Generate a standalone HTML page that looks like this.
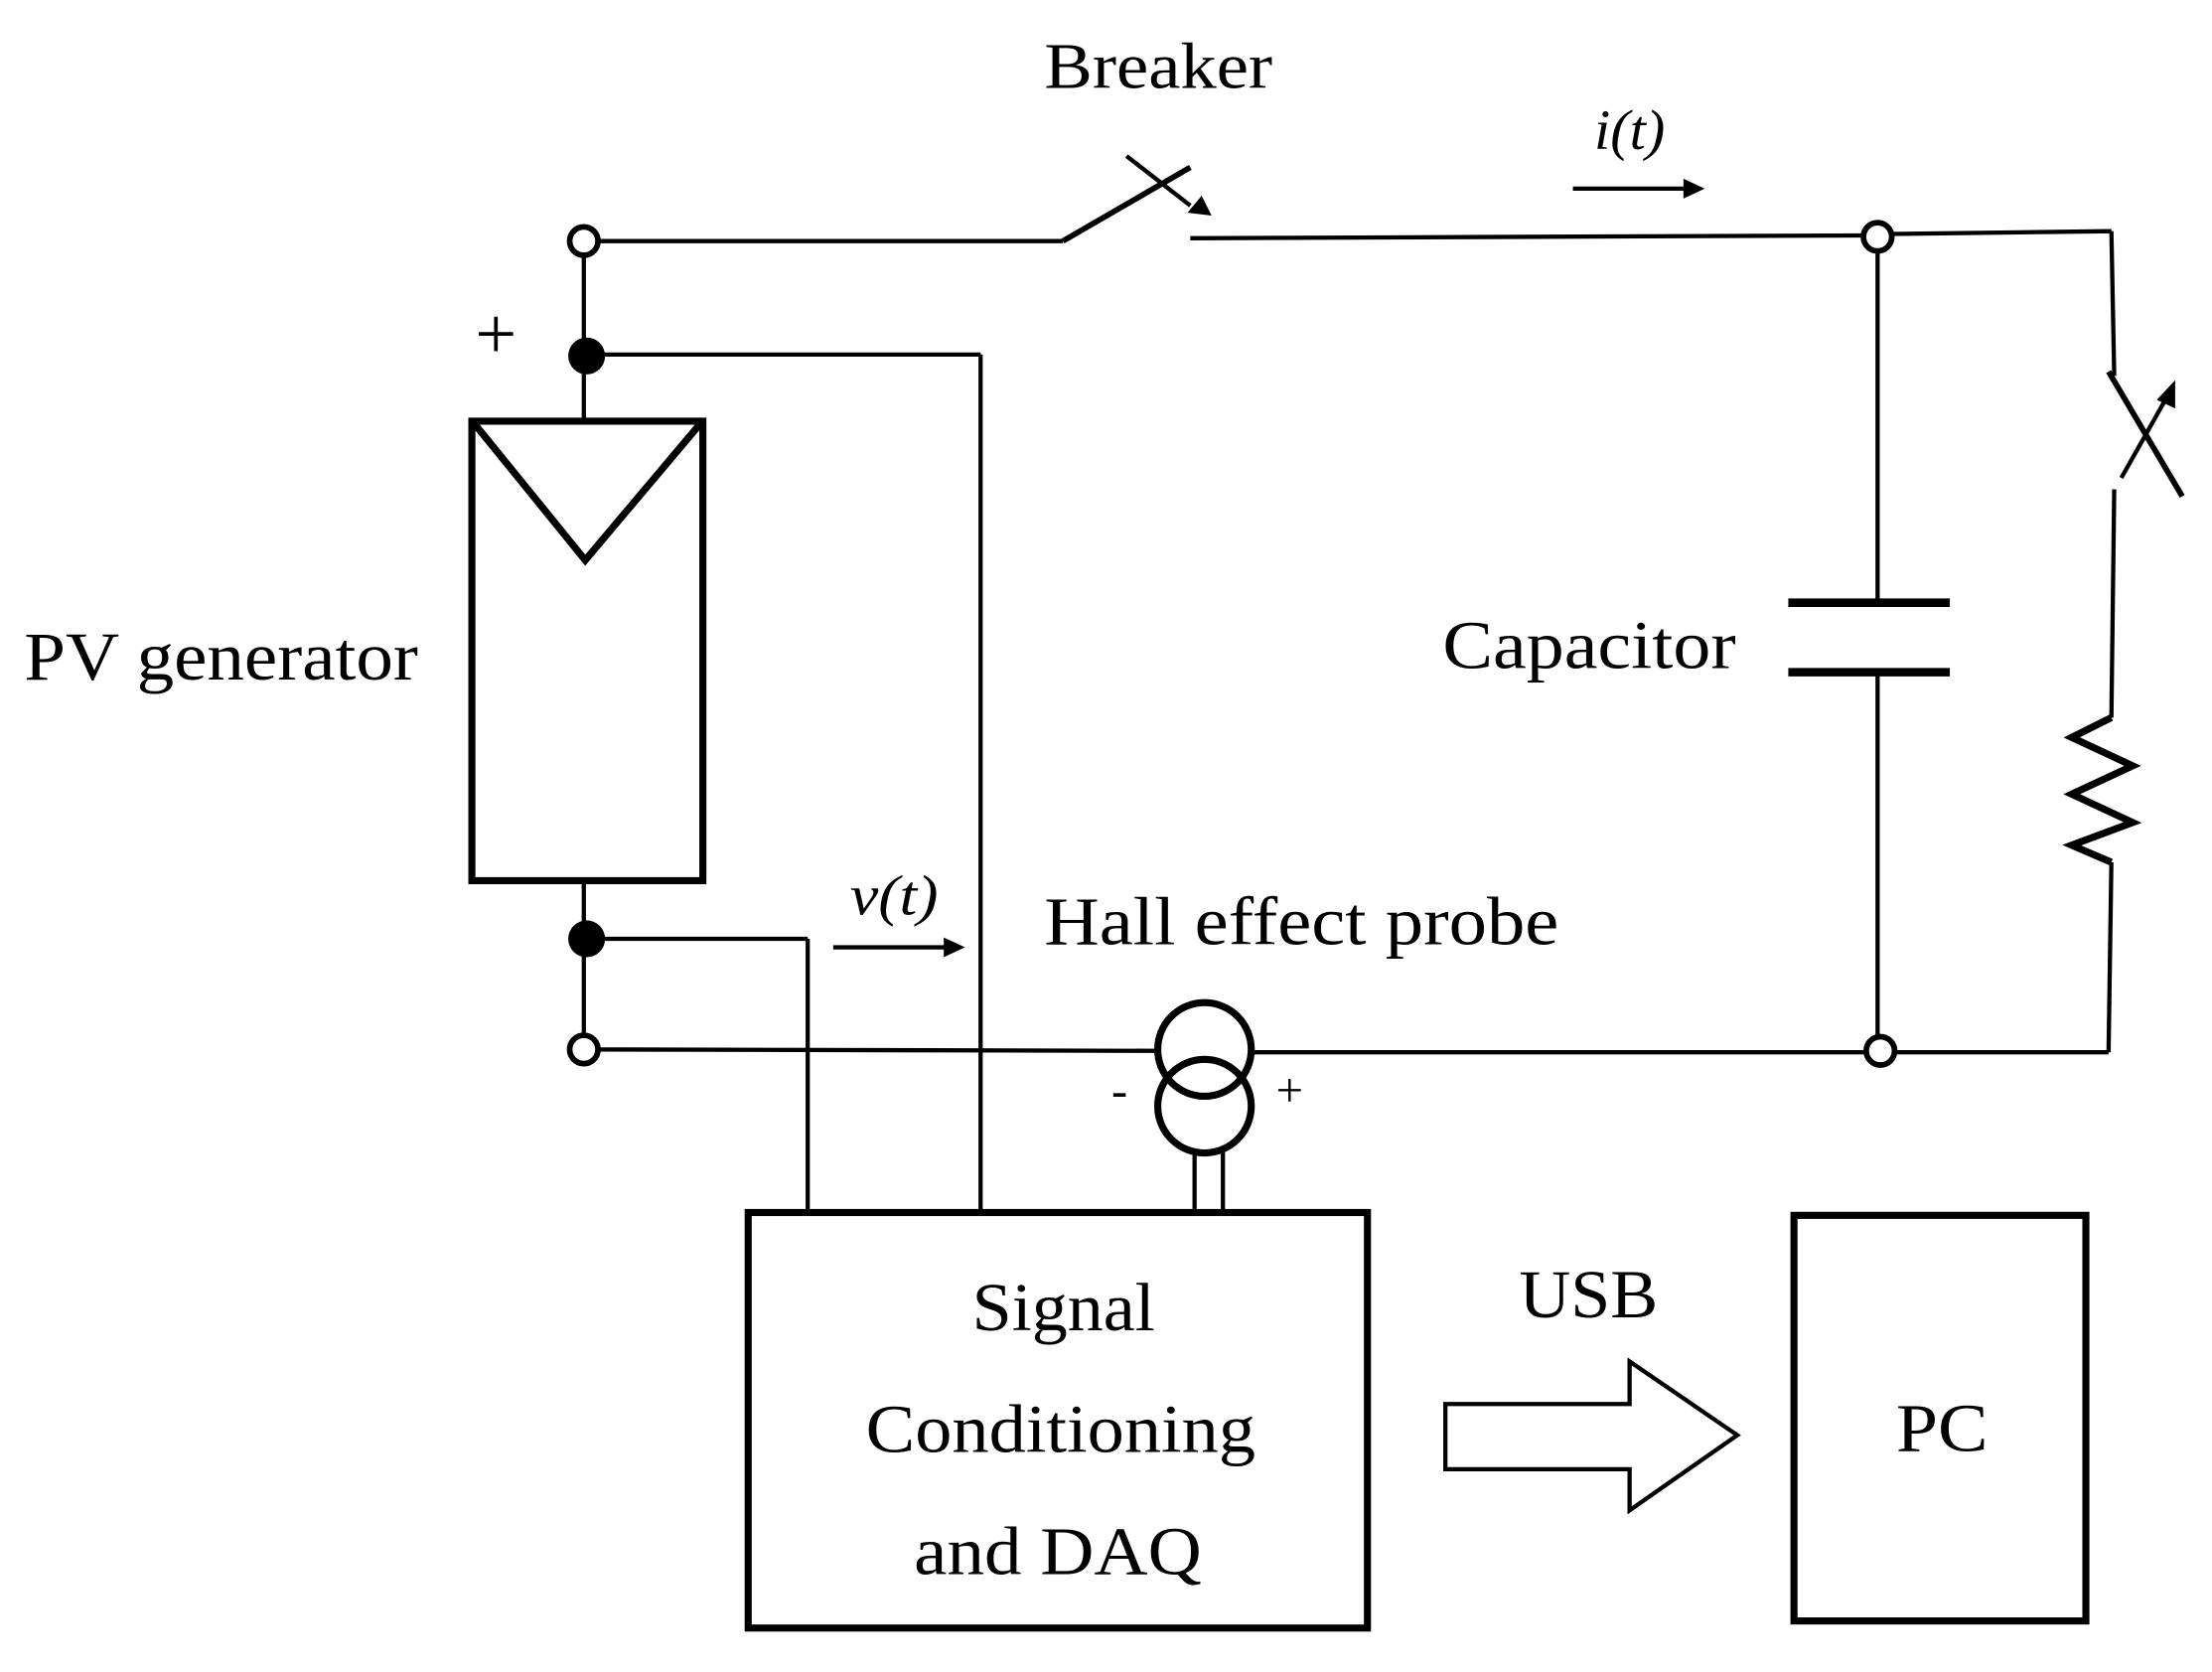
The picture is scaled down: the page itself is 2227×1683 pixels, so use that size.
<!DOCTYPE html>
<html><head><meta charset="utf-8"><style>
html,body{margin:0;padding:0;background:#fff;}
svg{display:block;}
text{font-family:"Liberation Serif",serif;fill:#000;}
</style></head><body>
<svg width="2227" height="1683" viewBox="0 0 1561 1179" preserveAspectRatio="none" xmlns="http://www.w3.org/2000/svg">
<g stroke="#000" stroke-width="3" fill="none">
<line x1="412" y1="178" x2="412" y2="297"/>
<line x1="412" y1="621" x2="412" y2="732"/>
<rect x="333" y="297" width="163" height="324" stroke-width="5"/>
<polyline points="335,299 413,395 494,299" stroke-width="5"/>
<line x1="420" y1="170" x2="750" y2="170"/>
<line x1="750" y1="170" x2="840" y2="118" stroke-width="4"/>
<line x1="795" y1="110" x2="840" y2="145"/>
<polygon points="855,152 838,150 848,138" fill="#000" stroke="none"/>
<line x1="840" y1="168" x2="1317" y2="166"/>
<circle cx="412" cy="170" r="10" fill="#fff" stroke-width="4"/>
<circle cx="1325" cy="167" r="10" fill="#fff" stroke-width="4"/>
<line x1="1335" y1="165" x2="1490" y2="163"/>
<line x1="1490" y1="163" x2="1492" y2="265"/>
<line x1="1488" y1="262" x2="1540" y2="350" stroke-width="4"/>
<line x1="1497" y1="337" x2="1532" y2="275"/>
<polygon points="1535,268 1535,288 1522,282" fill="#000" stroke="none"/>
<line x1="1492" y1="345" x2="1490" y2="506"/>
<polyline points="1490,506 1462,520 1505,540 1462,560 1505,580 1462,596 1490,608" stroke-width="5"/>
<line x1="1490" y1="608" x2="1488" y2="742"/>
<line x1="1488" y1="742" x2="1335" y2="742"/>
<line x1="1325" y1="177" x2="1325" y2="425"/>
<line x1="1262" y1="425" x2="1376" y2="425" stroke-width="6"/>
<line x1="1262" y1="474" x2="1376" y2="474" stroke-width="6"/>
<line x1="1325" y1="474" x2="1325" y2="732"/>
<circle cx="1327" cy="741" r="10" fill="#fff" stroke-width="4"/>
<line x1="420" y1="740" x2="818" y2="741"/>
<line x1="884" y1="742" x2="1317" y2="742"/>
<circle cx="412" cy="740" r="10" fill="#fff" stroke-width="4"/>
<circle cx="850" cy="740" r="33" stroke-width="5"/>
<circle cx="850" cy="780" r="33" stroke-width="5"/>
<line x1="843" y1="812" x2="843" y2="853"/>
<line x1="863" y1="812" x2="863" y2="853"/>
<line x1="412" y1="250" x2="692" y2="250"/>
<line x1="692" y1="250" x2="692" y2="853"/>
<line x1="412" y1="662" x2="570" y2="662"/>
<line x1="570" y1="662" x2="570" y2="853"/>
<rect x="528" y="855" width="437" height="293" stroke-width="5"/>
<rect x="1266" y="857" width="206" height="286" stroke-width="5"/>
<polygon points="1020,990 1150,990 1150,960 1226,1012 1150,1065 1150,1036 1020,1036" stroke-width="3"/>
<line x1="1110" y1="133" x2="1190" y2="133"/>
<line x1="588" y1="668" x2="668" y2="668"/>
</g>
<circle cx="414" cy="251" r="13" fill="#000"/>
<circle cx="414" cy="662" r="13" fill="#000"/>
<polygon points="1203,133 1188,126 1188,140" fill="#000"/>
<polygon points="681,668 666,661 666,675" fill="#000"/>
<text x="737" y="62" font-size="46" textLength="161" lengthAdjust="spacingAndGlyphs">Breaker</text>
<text x="1125" y="105" font-size="40" font-style="italic" textLength="50" lengthAdjust="spacingAndGlyphs">i(t)</text>
<text x="350" y="253" font-size="52" text-anchor="middle">+</text>
<text x="17" y="479" font-size="48" textLength="278" lengthAdjust="spacingAndGlyphs">PV generator</text>
<text x="1018" y="471" font-size="48" textLength="207" lengthAdjust="spacingAndGlyphs">Capacitor</text>
<text x="600" y="645" font-size="40" font-style="italic" textLength="62" lengthAdjust="spacingAndGlyphs">v(t)</text>
<text x="737" y="666" font-size="48" textLength="363" lengthAdjust="spacingAndGlyphs">Hall  effect probe</text>
<text x="790" y="780" font-size="34" text-anchor="middle">-</text>
<text x="910" y="780" font-size="34" text-anchor="middle">+</text>
<text x="686" y="938" font-size="48" textLength="129" lengthAdjust="spacingAndGlyphs">Signal</text>
<text x="611" y="1024" font-size="48" textLength="275" lengthAdjust="spacingAndGlyphs">Conditioning</text>
<text x="645" y="1110" font-size="48" textLength="203" lengthAdjust="spacingAndGlyphs">and DAQ</text>
<text x="1072" y="929" font-size="48" textLength="98" lengthAdjust="spacingAndGlyphs">USB</text>
<text x="1338" y="1023" font-size="48" textLength="65" lengthAdjust="spacingAndGlyphs">PC</text>
</svg>
</body></html>
